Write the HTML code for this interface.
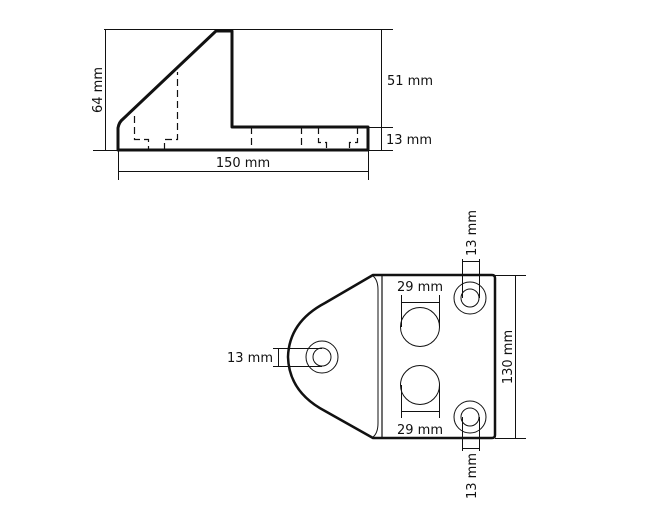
<!DOCTYPE html>
<html><head><style>
html,body{margin:0;padding:0;background:#fff;}
svg{display:block;}
text{font-family:"DejaVu Sans",Verdana,sans-serif;font-size:13px;fill:#111;}
</style></head><body>
<svg width="660" height="516" viewBox="0 0 660 516" xmlns="http://www.w3.org/2000/svg">
<g stroke="#111" fill="none" stroke-width="1">
  <line x1="104" y1="29.5" x2="393" y2="29.5"/>
  <line x1="93" y1="150.5" x2="393" y2="150.5"/>
  <line x1="105.5" y1="29" x2="105.5" y2="151"/>
  <line x1="381.5" y1="29" x2="381.5" y2="151"/>
  <line x1="368" y1="127.5" x2="393" y2="127.5"/>
  <line x1="118" y1="171.5" x2="369" y2="171.5"/>
  <line x1="118.5" y1="150" x2="118.5" y2="180"/>
  <line x1="368.5" y1="150" x2="368.5" y2="180"/>
  <g stroke-dasharray="7,4" stroke-width="1.2">
    <path d="M134.5 116 V139.5 H148.5 V150"/>
    <path d="M164.5 150 V139.5 H177.5 V72"/>
    <line x1="251.5" y1="127" x2="251.5" y2="150"/>
    <line x1="301.5" y1="127" x2="301.5" y2="150"/>
    <path d="M318.5 127 V142.5 H326.5 V150"/>
    <path d="M357.5 127 V142.5 H349.5 V150"/>
  </g>
  <path d="M118 150 V128 Q119 122 123 119 L216 31 H232 V127 H368 V150 Z" stroke-width="3" stroke-linejoin="round"/>

  <path d="M373 275 H492 Q495 275 495 278 V435 Q495 438 492 438 H373 L325 411 Q289 392 288 357 Q289 322 325 303 Z" stroke-width="2.5" stroke-linejoin="round"/>
  <line x1="382" y1="276" x2="382" y2="437" stroke-width="1.2"/>
  <path d="M373 276 Q378 280 378 290 V423 Q378 433 373 437" stroke-width="1"/>
  <circle cx="322" cy="357" r="16"/><circle cx="322" cy="357" r="9"/>
  <circle cx="470" cy="298" r="16"/><circle cx="470" cy="298" r="9"/>
  <circle cx="470" cy="417" r="16"/><circle cx="470" cy="417" r="9"/>
  <circle cx="420" cy="327" r="19.5"/>
  <circle cx="420" cy="385" r="19.5"/>
  <line x1="401.5" y1="295" x2="401.5" y2="327"/>
  <line x1="439.5" y1="295" x2="439.5" y2="327"/>
  <line x1="401" y1="302.5" x2="440" y2="302.5"/>
  <line x1="401.5" y1="385" x2="401.5" y2="418"/>
  <line x1="439.5" y1="385" x2="439.5" y2="418"/>
  <line x1="401" y1="411.5" x2="440" y2="411.5"/>
  <line x1="462.5" y1="259" x2="462.5" y2="298"/>
  <line x1="479.5" y1="259" x2="479.5" y2="298"/>
  <line x1="462" y1="261.5" x2="480" y2="261.5"/>
  <line x1="462.5" y1="417" x2="462.5" y2="451"/>
  <line x1="479.5" y1="417" x2="479.5" y2="451"/>
  <line x1="462" y1="448.5" x2="480" y2="448.5"/>
  <line x1="273" y1="348.5" x2="322" y2="348.5"/>
  <line x1="273" y1="366.5" x2="322" y2="366.5"/>
  <line x1="278.5" y1="348" x2="278.5" y2="367"/>
  <line x1="495" y1="275.5" x2="526" y2="275.5"/>
  <line x1="495" y1="438.5" x2="526" y2="438.5"/>
  <line x1="515.5" y1="275" x2="515.5" y2="439"/>
</g>
<text x="102" y="90" text-anchor="middle" transform="rotate(-90 102 90)">64 mm</text>
<text x="387" y="85">51 mm</text>
<text x="386" y="144">13 mm</text>
<text x="243" y="167" text-anchor="middle">150 mm</text>
<text x="420" y="291" text-anchor="middle">29 mm</text>
<text x="420" y="434" text-anchor="middle">29 mm</text>
<text x="273" y="362" text-anchor="end">13 mm</text>
<text x="476" y="233" text-anchor="middle" transform="rotate(-90 476 233)">13 mm</text>
<text x="476" y="476" text-anchor="middle" transform="rotate(-90 476 476)">13 mm</text>
<text x="512" y="357" text-anchor="middle" transform="rotate(-90 512 357)">130 mm</text>
</svg>
</body></html>
